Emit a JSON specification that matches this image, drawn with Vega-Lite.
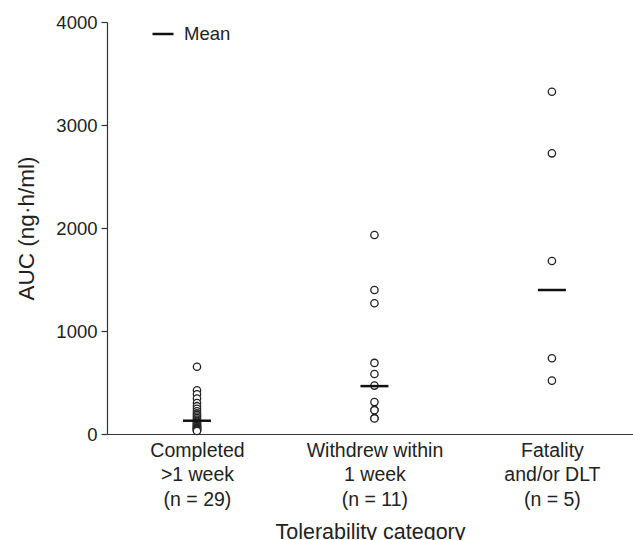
{
  "$schema": "https://vega.github.io/schema/vega-lite/v6.json",
  "width": 526,
  "height": 412,
  "autosize": {"type": "none"},
  "padding": {"left": 107, "top": 22, "right": 0, "bottom": 106},
  "config": {
    "font": "Liberation Sans",
    "view": {"stroke": null},
    "axis": {"grid": false, "labelColor": "#222", "titleColor": "#222", "domainColor": "#333", "tickColor": "#333", "titleFontWeight": "normal"}
  },
  "datasets": {
    "points": [
      {"cat": "Completed|>1 week|(n = 29)", "auc": 653},
      {"cat": "Completed|>1 week|(n = 29)", "auc": 425},
      {"cat": "Completed|>1 week|(n = 29)", "auc": 385},
      {"cat": "Completed|>1 week|(n = 29)", "auc": 345},
      {"cat": "Completed|>1 week|(n = 29)", "auc": 300},
      {"cat": "Completed|>1 week|(n = 29)", "auc": 270},
      {"cat": "Completed|>1 week|(n = 29)", "auc": 245},
      {"cat": "Completed|>1 week|(n = 29)", "auc": 220},
      {"cat": "Completed|>1 week|(n = 29)", "auc": 200},
      {"cat": "Completed|>1 week|(n = 29)", "auc": 185},
      {"cat": "Completed|>1 week|(n = 29)", "auc": 170},
      {"cat": "Completed|>1 week|(n = 29)", "auc": 155},
      {"cat": "Completed|>1 week|(n = 29)", "auc": 140},
      {"cat": "Completed|>1 week|(n = 29)", "auc": 128},
      {"cat": "Completed|>1 week|(n = 29)", "auc": 118},
      {"cat": "Completed|>1 week|(n = 29)", "auc": 108},
      {"cat": "Completed|>1 week|(n = 29)", "auc": 100},
      {"cat": "Completed|>1 week|(n = 29)", "auc": 92},
      {"cat": "Completed|>1 week|(n = 29)", "auc": 85},
      {"cat": "Completed|>1 week|(n = 29)", "auc": 78},
      {"cat": "Completed|>1 week|(n = 29)", "auc": 72},
      {"cat": "Completed|>1 week|(n = 29)", "auc": 66},
      {"cat": "Completed|>1 week|(n = 29)", "auc": 60},
      {"cat": "Completed|>1 week|(n = 29)", "auc": 55},
      {"cat": "Completed|>1 week|(n = 29)", "auc": 50},
      {"cat": "Completed|>1 week|(n = 29)", "auc": 45},
      {"cat": "Completed|>1 week|(n = 29)", "auc": 40},
      {"cat": "Completed|>1 week|(n = 29)", "auc": 35},
      {"cat": "Completed|>1 week|(n = 29)", "auc": 30},
      {"cat": "Withdrew within|1 week|(n = 11)", "auc": 1932},
      {"cat": "Withdrew within|1 week|(n = 11)", "auc": 1398},
      {"cat": "Withdrew within|1 week|(n = 11)", "auc": 1269},
      {"cat": "Withdrew within|1 week|(n = 11)", "auc": 690},
      {"cat": "Withdrew within|1 week|(n = 11)", "auc": 583},
      {"cat": "Withdrew within|1 week|(n = 11)", "auc": 470},
      {"cat": "Withdrew within|1 week|(n = 11)", "auc": 310},
      {"cat": "Withdrew within|1 week|(n = 11)", "auc": 235},
      {"cat": "Withdrew within|1 week|(n = 11)", "auc": 230},
      {"cat": "Withdrew within|1 week|(n = 11)", "auc": 155},
      {"cat": "Withdrew within|1 week|(n = 11)", "auc": 150},
      {"cat": "Fatality|and/or DLT|(n = 5)", "auc": 3323},
      {"cat": "Fatality|and/or DLT|(n = 5)", "auc": 2725},
      {"cat": "Fatality|and/or DLT|(n = 5)", "auc": 1680},
      {"cat": "Fatality|and/or DLT|(n = 5)", "auc": 735},
      {"cat": "Fatality|and/or DLT|(n = 5)", "auc": 518}
    ],
    "means": [
      {"cat": "Completed|>1 week|(n = 29)", "auc": 129, "stat": "Mean"},
      {"cat": "Withdrew within|1 week|(n = 11)", "auc": 465, "stat": "Mean"},
      {"cat": "Fatality|and/or DLT|(n = 5)", "auc": 1398, "stat": "Mean"}
    ]
  },
  "encoding": {
    "x": {
      "field": "cat", "type": "nominal", "sort": null,
      "scale": {"type": "point", "padding": 0.482, "align": 0.526,
        "domain": ["Completed|>1 week|(n = 29)", "Withdrew within|1 week|(n = 11)", "Fatality|and/or DLT|(n = 5)"]},
      "axis": {
        "title": "Tolerability category", "titleFontSize": 21.5, "titlePadding": 13,
        "labelExpr": "split(datum.label, '|')", "labelFontSize": 19.5, "labelLineHeight": 24.5,
        "labelAngle": 0, "labelPadding": 7, "ticks": false, "domainWidth": 1.2
      }
    },
    "y": {
      "field": "auc", "type": "quantitative",
      "scale": {"domain": [0, 4000], "nice": false},
      "axis": {
        "title": "AUC (ng·h/ml)", "titleFontSize": 22.5, "titlePadding": 17,
        "values": [0, 1000, 2000, 3000, 4000], "format": "d", "labelFontSize": 18.5, "tickSize": 6,
        "labelPadding": 4, "domainWidth": 1.2, "tickWidth": 1.2
      }
    }
  },
  "layer": [
    {
      "data": {"name": "points"},
      "mark": {"type": "point", "shape": "circle", "filled": true, "fill": "white", "stroke": "#222", "strokeWidth": 1.3, "size": 54, "opacity": 1}
    },
    {
      "data": {"name": "means"},
      "mark": {"type": "tick", "orient": "horizontal", "size": 28, "thickness": 2.5, "opacity": 1},
      "encoding": {
        "color": {
          "field": "stat", "type": "nominal",
          "scale": {"range": ["#111"]},
          "legend": {
            "title": null, "orient": "none", "legendX": 44, "legendY": 0,
            "symbolType": "stroke", "symbolSize": 441, "symbolStrokeWidth": 2.5,
            "symbolStrokeColor": "#111", "symbolOpacity": 1,
            "labelFontSize": 18.5, "labelOffset": 9, "padding": 0, "labelColor": "#222"
          }
        }
      }
    }
  ]
}
